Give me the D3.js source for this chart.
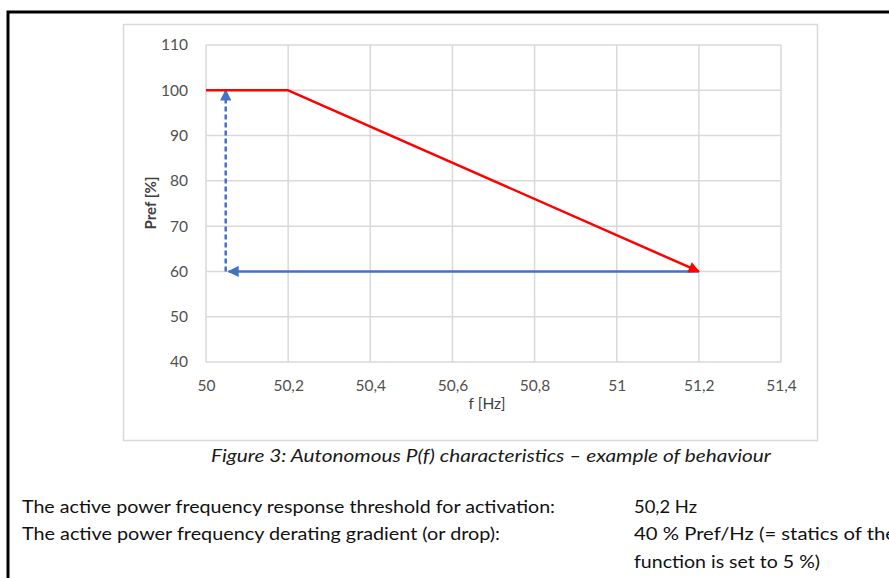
<!DOCTYPE html>
<html>
<head>
<meta charset="utf-8">
<script src="https://cdn.jsdelivr.net/npm/d3@7"></script>
<style>
  body { margin: 0; background: #fff; }
  svg { display: block; font-family: Lato, "Open Sans", sans-serif; }
</style>
</head>
<body>
<svg id="chart" width="889" height="578"></svg>
<script>
// axis ticks (labels written the way the document shows them, decimal comma)
const freqTicks = [50, 50.2, 50.4, 50.6, 50.8, 51, 51.2, 51.4]
const freqLabels = ["50", "50,2", "50,4", "50,6", "50,8", "51", "51,2", "51,4"]
const prefTicks = [40, 50, 60, 70, 80, 90, 100, 110]

// red characteristic P(f)
const redFreq = [50, 50.2, 51.2]
const redPref = [100, 100, 60]
// blue: return at 60 % back to low frequency, then dashed recovery up to 100 %
const blueFreq = [51.2, 50.055]
const bluePref = [60, 60]
const dashFreq = [50.048, 50.048]
const dashPref = [60, 100]

const captionText = "Figure 3: Autonomous P(f) characteristics \u2013 example of behaviour"
const bodyLabels = ["The active power frequency response threshold for activation:",
                    "The active power frequency derating gradient (or drop):"]
const bodyValues = ["50,2 Hz", "40 % Pref/Hz (= statics of the", "function is set to 5 %)"]

const svg = d3.select("#chart")

// page frame of the screenshot
svg.append("path")
    .attr("d", "M8,578 L8,12 L889,12")
    .attr("fill", "none")
    .attr("stroke", "#000")
    .attr("stroke-width", 3)

// chart box
svg.append("rect")
    .attr("x", 123.5).attr("y", 24.5)
    .attr("width", 694).attr("height", 416)
    .attr("fill", "#fff")
    .attr("stroke", "#d9d9d9")
    .attr("stroke-width", 1.5)

const plot = { left: 206, top: 45, right: 781, bottom: 362 }

const x = d3.scaleLinear().domain([50, 51.4]).range([plot.left, plot.right])
const y = d3.scaleLinear().domain([40, 110]).range([plot.bottom, plot.top])

// grid
const grid = svg.append("g").attr("stroke", "#d9d9d9").attr("stroke-width", 1.5)
grid.selectAll("line.v").data(freqTicks).join("line")
    .attr("class", "v")
    .attr("x1", d => x(d)).attr("x2", d => x(d))
    .attr("y1", plot.top).attr("y2", plot.bottom)
grid.selectAll("line.h").data(prefTicks).join("line")
    .attr("class", "h")
    .attr("x1", plot.left).attr("x2", plot.right)
    .attr("y1", d => y(d)).attr("y2", d => y(d))

// axes (labels only, Excel style)
const xAxis = svg.append("g")
    .attr("transform", `translate(0,${plot.bottom + 15})`)
    .call(d3.axisBottom(x).tickValues(freqTicks).tickSize(0)
        .tickFormat((d, i) => freqLabels[i]))
xAxis.select(".domain").remove()
xAxis.selectAll("text")
    .attr("fill", "#505050")
    .style("font-size", "15.5px")
    .style("font-family", "Lato, sans-serif")

const yAxis = svg.append("g")
    .attr("transform", `translate(${plot.left - 15},0)`)
    .call(d3.axisLeft(y).tickValues(prefTicks).tickSize(0))
yAxis.select(".domain").remove()
yAxis.selectAll("text")
    .attr("fill", "#505050")
    .style("font-size", "15.5px")
    .style("font-family", "Lato, sans-serif")

// axis titles
svg.append("text")
    .attr("x", 487).attr("y", 409)
    .attr("text-anchor", "middle")
    .attr("fill", "#404040")
    .style("font-size", "15.5px")
    .text("f [Hz]")

svg.append("text")
    .attr("transform", "translate(156,203) rotate(-90)")
    .attr("text-anchor", "middle")
    .attr("fill", "#404040")
    .style("font-size", "15px")
    .style("font-weight", "bold")
    .text("Pref [%]")

// arrow markers
const defs = svg.append("defs")
function marker(id, color) {
    defs.append("marker")
        .attr("id", id)
        .attr("viewBox", "0 0 10 10")
        .attr("refX", 9).attr("refY", 5)
        .attr("markerWidth", 5.5).attr("markerHeight", 4.5)
        .attr("orient", "auto")
        .attr("markerUnits", "strokeWidth")
        .append("path")
        .attr("d", "M0,0 L10,5 L0,10 z")
        .attr("fill", color)
}
marker("arrowRed", "#ff0000")
marker("arrowBlue", "#4472c4")

const line = d3.line().x(d => x(d[0])).y(d => y(d[1]))

svg.append("path")
    .datum(d3.zip(dashFreq, dashPref))
    .attr("d", line)
    .attr("fill", "none")
    .attr("stroke", "#4472c4")
    .attr("stroke-width", 2.5)
    .attr("stroke-dasharray", "5,3")
    .attr("marker-end", "url(#arrowBlue)")

svg.append("path")
    .datum(d3.zip(blueFreq, bluePref))
    .attr("d", line)
    .attr("fill", "none")
    .attr("stroke", "#4472c4")
    .attr("stroke-width", 2.5)
    .attr("marker-end", "url(#arrowBlue)")

svg.append("path")
    .datum(d3.zip(redFreq, redPref))
    .attr("d", line)
    .attr("fill", "none")
    .attr("stroke", "#ff0000")
    .attr("stroke-width", 2.5)
    .attr("stroke-linejoin", "round")
    .attr("marker-end", "url(#arrowRed)")

// caption
svg.append("text")
    .attr("x", 211).attr("y", 462)
    .attr("fill", "#1a1a1a")
    .style("font-size", "17.5px")
    .style("font-style", "italic")
    .attr("textLength", 560)
    .attr("lengthAdjust", "spacingAndGlyphs")
    .text(captionText)

// body text under the figure
const bodyY = [513, 540, 568]
const labelWidths = [533, 478]
const valueWidths = [63, 262, 186]
svg.selectAll("text.lbl").data(bodyLabels).join("text")
    .attr("class", "lbl")
    .attr("x", 22).attr("y", (d, i) => bodyY[i])
    .attr("fill", "#111")
    .style("font-size", "17.5px")
    .attr("textLength", (d, i) => labelWidths[i])
    .attr("lengthAdjust", "spacingAndGlyphs")
    .text(d => d)
svg.selectAll("text.val").data(bodyValues).join("text")
    .attr("class", "val")
    .attr("x", 634).attr("y", (d, i) => bodyY[i])
    .attr("fill", "#111")
    .style("font-size", "17.5px")
    .attr("textLength", (d, i) => valueWidths[i])
    .attr("lengthAdjust", "spacingAndGlyphs")
    .text(d => d)
</script>
</body>
</html>
